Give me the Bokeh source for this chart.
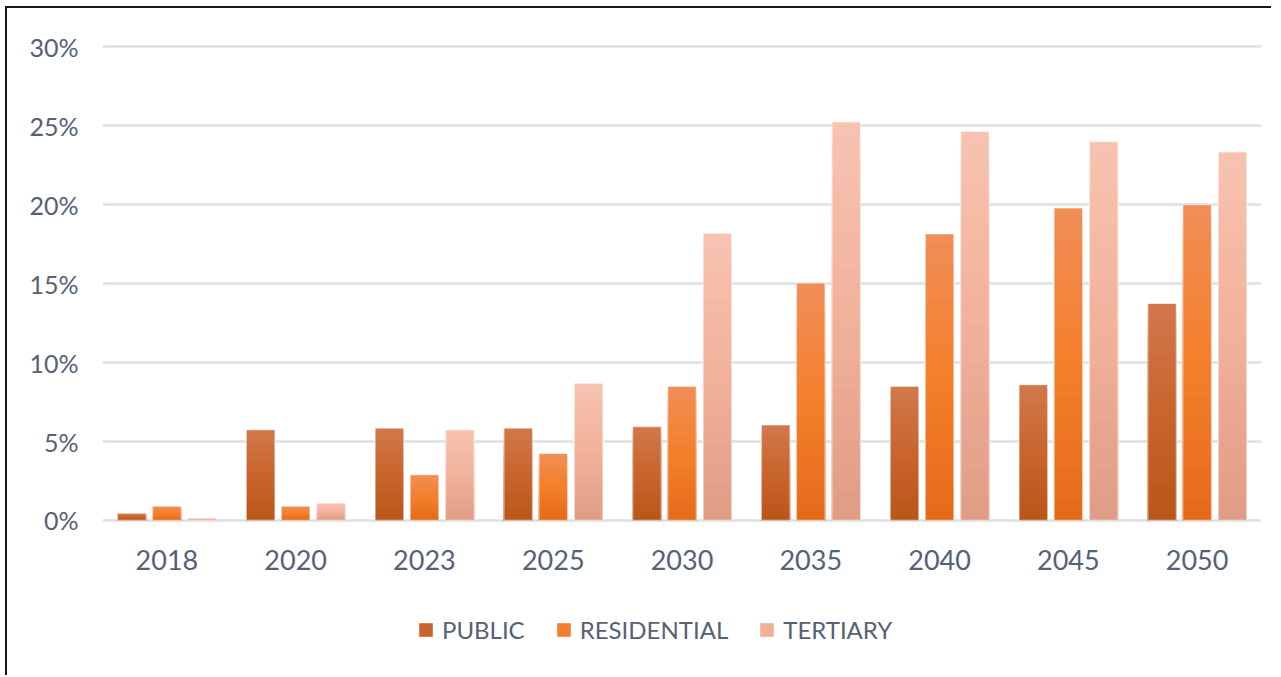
from bokeh.plotting import figure
from bokeh.models import ColumnDataSource, Range1d, FactorRange, Legend, LegendItem, FixedTicker
from bokeh.core.properties import value
from bokeh.transform import dodge
from bokeh.embed import file_html
from bokeh.resources import INLINE

years = ["2018", "2020", "2023", "2025", "2030", "2035", "2040", "2045", "2050"]
public = [0.45, 5.75, 5.85, 5.85, 5.95, 6.05, 8.5, 8.6, 13.75]
residential = [0.9, 0.9, 2.9, 4.25, 8.5, 15.05, 18.15, 19.8, 20.0]
tertiary = [0.15, 1.1, 5.75, 8.7, 18.2, 25.25, 24.65, 24.0, 23.35]
y_ticks = [0, 5, 10, 15, 20, 25, 30]

FONT = "Lato"
TEXT = "#556175"

# gradient stops: bottom, middle, top
grads = {
    "PUBLIC": ["#B9561A", "#C8652D", "#D2784C"],
    "RESIDENTIAL": ["#E36A19", "#F57F2B", "#F08E57"],
    "TERTIARY": ["#DF9C85", "#F2B19B", "#F7C4B1"],
}

def hex2rgb(h):
    h = h.lstrip("#")
    return [int(h[i:i + 2], 16) for i in (0, 2, 4)]

def interp(stops, t):
    if t <= 0.5:
        a, b, u = hex2rgb(stops[0]), hex2rgb(stops[1]), t / 0.5
    else:
        a, b, u = hex2rgb(stops[1]), hex2rgb(stops[2]), (t - 0.5) / 0.5
    c = [round(a[i] + (b[i] - a[i]) * u) for i in range(3)]
    return "#%02x%02x%02x" % tuple(c)

# the frame extends below zero to hold the category labels and the legend
p = figure(
    frame_width=1159, frame_height=628,
    x_range=FactorRange(*years), y_range=Range1d(-9.63, 30.15),
    output_backend="svg", toolbar_location=None,
    min_border_left=95, min_border_right=10, min_border_top=36, min_border_bottom=3,
)
p.outline_line_color = None
p.background_fill_color = "white"
p.border_fill_color = "white"
p.styles = {"border-top": "2px solid #1a1a1a", "border-left": "2px solid #1a1a1a",
            "margin-left": "5px", "margin-top": "6px"}

N = 30
series = [("PUBLIC", public, -0.272), ("RESIDENTIAL", residential, 0.0), ("TERTIARY", tertiary, 0.275)]
W = 0.222
items = []
for name, vals, off in series:
    xs, tops, cols = [], [], []
    for k in range(N):
        frac = 1 - k / N
        for y, v in zip(years, vals):
            xs.append(y)
            tops.append(v * frac)
            cols.append(interp(grads[name], frac - 0.5 / N))
    src = ColumnDataSource(dict(year=xs, top=tops, color=cols))
    r = p.vbar(x=dodge("year", off, range=p.x_range), top="top", bottom=0, width=W,
               source=src, fill_color="color", line_color=None)
    osrc = ColumnDataSource(dict(year=years, top=vals))
    p.vbar(x=dodge("year", off, range=p.x_range), top="top", bottom=0, width=W,
           source=osrc, fill_color=None, line_color="white", line_width=1.2, line_alpha=0.6)
    items.append(LegendItem(label=name, renderers=[r], index=(N // 2) * len(years)))

# category labels under the zero line
lab_src = ColumnDataSource(dict(year=years, y=[0] * len(years)))
p.text(x="year", y="y", text="year", source=lab_src, y_offset=40,
       text_font=value(FONT), text_font_size="27px", text_color=TEXT,
       text_align="center", text_baseline="middle")

p.xaxis.visible = False
p.yaxis.ticker = FixedTicker(ticks=y_ticks)
p.yaxis.major_label_overrides = {t: f"{t}%" for t in y_ticks}
ax = p.yaxis[0]
ax.axis_line_color = None
ax.major_tick_line_color = None
ax.minor_tick_line_color = None
ax.major_tick_out = 0
ax.major_tick_in = 0
ax.major_label_text_font = FONT
ax.major_label_text_color = TEXT
ax.major_label_text_font_size = "25px"
ax.major_label_standoff = 24

p.xgrid.grid_line_color = None
p.ygrid.grid_line_color = "#DCE0E7"
p.ygrid.grid_line_width = 2.5

legend = Legend(items=items, orientation="horizontal", location=(315, 28),
                label_text_font=FONT, label_text_font_size="24px", label_text_color=TEXT,
                glyph_width=17, glyph_height=17, label_standoff=8, spacing=30,
                border_line_color=None, background_fill_alpha=0, margin=0, padding=4)
p.add_layout(legend, "center")

open("out.html", "w").write(file_html(p, INLINE))
